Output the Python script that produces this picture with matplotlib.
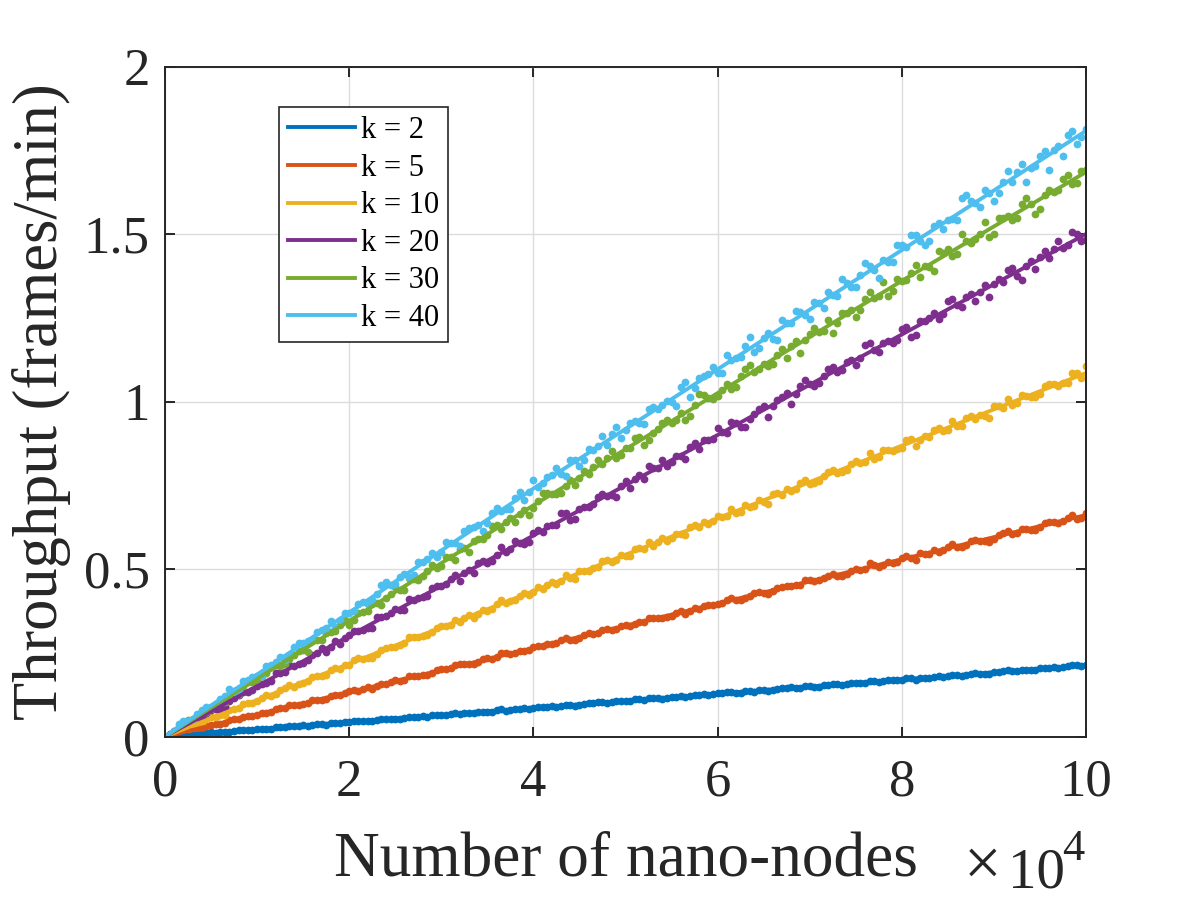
import numpy as np
import matplotlib
matplotlib.use("Agg")
import matplotlib.pyplot as plt

plt.rcParams['font.family'] = ['Liberation Serif', 'DejaVu Serif']

# ---------------- data ----------------
labels = ['k = 2', 'k = 5', 'k = 10', 'k = 20', 'k = 30', 'k = 40']
colors = ['#0072BD', '#D95319', '#EDB120', '#7E2F8E', '#77AC30', '#4DBEEE']

fit_x = [0, 20000, 40000, 60000, 80000, 100000]
fit_k2 = [0, 0.043, 0.085, 0.128, 0.170, 0.213]
fit_k5 = [0, 0.132, 0.264, 0.397, 0.529, 0.661]
fit_k10 = [0, 0.217, 0.434, 0.651, 0.868, 1.085]
fit_k20 = [0, 0.300, 0.600, 0.900, 1.200, 1.500]
fit_k30 = [0, 0.345, 0.690, 1.025, 1.360, 1.685]
fit_k40 = [0, 0.370, 0.740, 1.096, 1.452, 1.808]

# measured samples at 1000, 2000, ..., 100000 nano-nodes
sample_x_a = np.arange(1, 101) * 1000
# measured samples at 500, 1500, ..., 99500 nano-nodes
sample_x_b = np.arange(1, 101) * 1000 - 500

pts_k2_a = [0.002, 0.005, 0.006, 0.008, 0.012, 0.013, 0.014, 0.018, 0.020, 0.021,
            0.022, 0.027, 0.027, 0.031, 0.033, 0.033, 0.037, 0.039, 0.039, 0.044,
            0.046, 0.046, 0.050, 0.053, 0.052, 0.056, 0.057, 0.061, 0.063, 0.063,
            0.068, 0.067, 0.071, 0.073, 0.074, 0.078, 0.077, 0.082, 0.085, 0.084,
            0.088, 0.090, 0.091, 0.095, 0.094, 0.099, 0.102, 0.101, 0.105, 0.106,
            0.111, 0.110, 0.114, 0.113, 0.119, 0.120, 0.120, 0.125, 0.124, 0.129,
            0.132, 0.131, 0.135, 0.134, 0.140, 0.140, 0.144, 0.147, 0.146, 0.150,
            0.149, 0.155, 0.156, 0.157, 0.161, 0.160, 0.166, 0.165, 0.170, 0.169,
            0.174, 0.176, 0.175, 0.181, 0.180, 0.185, 0.184, 0.189, 0.188, 0.193,
            0.196, 0.195, 0.199, 0.198, 0.204, 0.205, 0.205, 0.210, 0.212, 0.214]
pts_k2_b = [0.001, 0.004, 0.004, 0.008, 0.011, 0.011, 0.012, 0.017, 0.020, 0.019,
            0.023, 0.023, 0.028, 0.031, 0.030, 0.032, 0.036, 0.035, 0.041, 0.042,
            0.045, 0.045, 0.045, 0.051, 0.053, 0.053, 0.059, 0.058, 0.059, 0.064,
            0.065, 0.069, 0.070, 0.069, 0.074, 0.074, 0.081, 0.079, 0.082, 0.082,
            0.088, 0.089, 0.089, 0.095, 0.092, 0.097, 0.099, 0.103, 0.102, 0.106,
            0.105, 0.111, 0.115, 0.114, 0.115, 0.119, 0.117, 0.125, 0.126, 0.126,
            0.129, 0.134, 0.131, 0.135, 0.139, 0.135, 0.143, 0.146, 0.145, 0.151,
            0.148, 0.153, 0.157, 0.154, 0.160, 0.160, 0.167, 0.163, 0.168, 0.168,
            0.174, 0.170, 0.176, 0.179, 0.179, 0.185, 0.182, 0.188, 0.188, 0.187,
            0.194, 0.198, 0.196, 0.199, 0.199, 0.205, 0.206, 0.207, 0.213, 0.210]

pts_k5_a = [0.008, 0.012, 0.022, 0.025, 0.035, 0.038, 0.048, 0.051, 0.062, 0.065,
            0.071, 0.082, 0.084, 0.095, 0.097, 0.109, 0.110, 0.121, 0.123, 0.135,
            0.137, 0.149, 0.150, 0.157, 0.168, 0.170, 0.182, 0.183, 0.189, 0.201,
            0.203, 0.215, 0.216, 0.222, 0.234, 0.236, 0.248, 0.249, 0.255, 0.268,
            0.269, 0.275, 0.288, 0.289, 0.295, 0.308, 0.308, 0.320, 0.321, 0.334,
            0.335, 0.341, 0.354, 0.355, 0.361, 0.374, 0.375, 0.380, 0.394, 0.395,
            0.407, 0.407, 0.413, 0.427, 0.428, 0.433, 0.447, 0.448, 0.453, 0.467,
            0.466, 0.480, 0.480, 0.486, 0.500, 0.499, 0.513, 0.512, 0.519, 0.533,
            0.532, 0.547, 0.545, 0.552, 0.566, 0.565, 0.571, 0.587, 0.585, 0.591,
            0.606, 0.604, 0.620, 0.617, 0.624, 0.640, 0.637, 0.653, 0.650, 0.667]
pts_k5_b = [0.003, 0.012, 0.014, 0.024, 0.032, 0.036, 0.039, 0.051, 0.059, 0.061,
            0.070, 0.073, 0.084, 0.094, 0.095, 0.100, 0.110, 0.112, 0.125, 0.129,
            0.139, 0.141, 0.143, 0.158, 0.163, 0.167, 0.180, 0.182, 0.185, 0.198,
            0.201, 0.213, 0.216, 0.217, 0.230, 0.232, 0.248, 0.247, 0.255, 0.257,
            0.271, 0.276, 0.278, 0.293, 0.287, 0.302, 0.307, 0.318, 0.319, 0.329,
            0.329, 0.343, 0.353, 0.354, 0.357, 0.368, 0.367, 0.385, 0.389, 0.392,
            0.400, 0.412, 0.408, 0.419, 0.430, 0.424, 0.442, 0.450, 0.451, 0.466,
            0.463, 0.474, 0.484, 0.480, 0.494, 0.498, 0.518, 0.507, 0.521, 0.522,
            0.539, 0.528, 0.546, 0.557, 0.556, 0.574, 0.565, 0.583, 0.585, 0.580,
            0.602, 0.613, 0.607, 0.618, 0.616, 0.638, 0.641, 0.643, 0.662, 0.653]

pts_k10_a = [0.012, 0.020, 0.035, 0.041, 0.057, 0.063, 0.079, 0.084, 0.101, 0.106,
             0.123, 0.127, 0.145, 0.149, 0.160, 0.178, 0.181, 0.199, 0.202, 0.214,
             0.233, 0.235, 0.246, 0.265, 0.268, 0.279, 0.298, 0.300, 0.311, 0.331,
             0.333, 0.343, 0.364, 0.365, 0.376, 0.396, 0.398, 0.408, 0.429, 0.430,
             0.440, 0.462, 0.463, 0.473, 0.494, 0.495, 0.505, 0.527, 0.527, 0.538,
             0.560, 0.560, 0.570, 0.593, 0.592, 0.603, 0.625, 0.624, 0.635, 0.658,
             0.657, 0.667, 0.691, 0.689, 0.699, 0.723, 0.722, 0.732, 0.756, 0.754,
             0.764, 0.789, 0.786, 0.797, 0.822, 0.819, 0.829, 0.854, 0.851, 0.861,
             0.887, 0.884, 0.894, 0.920, 0.916, 0.926, 0.952, 0.948, 0.958, 0.986,
             0.980, 0.990, 1.018, 1.013, 1.023, 1.051, 1.045, 1.055, 1.084, 1.106]
pts_k10_b = [0.004, 0.020, 0.023, 0.039, 0.051, 0.059, 0.065, 0.083, 0.097, 0.101,
             0.114, 0.121, 0.138, 0.153, 0.157, 0.165, 0.181, 0.184, 0.205, 0.212,
             0.228, 0.231, 0.235, 0.259, 0.267, 0.274, 0.296, 0.298, 0.303, 0.325,
             0.329, 0.349, 0.354, 0.355, 0.378, 0.380, 0.408, 0.404, 0.418, 0.421,
             0.446, 0.453, 0.456, 0.482, 0.470, 0.495, 0.503, 0.523, 0.522, 0.541,
             0.539, 0.564, 0.580, 0.580, 0.584, 0.605, 0.602, 0.632, 0.640, 0.643,
             0.656, 0.678, 0.669, 0.686, 0.707, 0.693, 0.726, 0.740, 0.739, 0.766,
             0.758, 0.778, 0.796, 0.791, 0.812, 0.817, 0.847, 0.833, 0.855, 0.857,
             0.884, 0.867, 0.896, 0.914, 0.912, 0.943, 0.928, 0.956, 0.959, 0.951,
             0.987, 1.006, 0.996, 1.015, 1.012, 1.046, 1.051, 1.054, 1.086, 1.071]

pts_k20_a = [0.016, 0.027, 0.050, 0.059, 0.078, 0.083, 0.105, 0.125, 0.132, 0.152,
             0.159, 0.189, 0.193, 0.211, 0.220, 0.244, 0.263, 0.267, 0.277, 0.303,
             0.315, 0.325, 0.358, 0.359, 0.381, 0.379, 0.407, 0.416, 0.444, 0.448,
             0.470, 0.464, 0.498, 0.519, 0.518, 0.542, 0.552, 0.584, 0.576, 0.607,
             0.609, 0.631, 0.666, 0.647, 0.680, 0.686, 0.715, 0.719, 0.716, 0.763,
             0.768, 0.770, 0.802, 0.826, 0.819, 0.838, 0.865, 0.857, 0.885, 0.921,
             0.906, 0.935, 0.925, 0.963, 0.988, 0.986, 1.012, 0.993, 1.047, 1.051,
             1.054, 1.098, 1.089, 1.119, 1.108, 1.168, 1.154, 1.174, 1.176, 1.217,
             1.192, 1.241, 1.248, 1.246, 1.300, 1.287, 1.311, 1.299, 1.348, 1.350,
             1.357, 1.400, 1.364, 1.420, 1.430, 1.428, 1.480, 1.468, 1.501, 1.482]
pts_k20_b = [0.006, 0.027, 0.032, 0.053, 0.071, 0.081, 0.089, 0.115, 0.134, 0.139,
             0.158, 0.167, 0.191, 0.213, 0.216, 0.228, 0.250, 0.253, 0.284, 0.293,
             0.315, 0.319, 0.324, 0.358, 0.370, 0.378, 0.410, 0.412, 0.419, 0.449,
             0.455, 0.483, 0.489, 0.489, 0.523, 0.524, 0.565, 0.559, 0.578, 0.581,
             0.617, 0.627, 0.630, 0.667, 0.649, 0.685, 0.695, 0.723, 0.721, 0.748,
             0.743, 0.781, 0.806, 0.801, 0.807, 0.836, 0.828, 0.877, 0.885, 0.887,
             0.908, 0.940, 0.923, 0.948, 0.978, 0.954, 1.004, 1.025, 1.021, 1.063,
             1.046, 1.076, 1.103, 1.094, 1.124, 1.129, 1.174, 1.149, 1.182, 1.183,
             1.223, 1.198, 1.239, 1.264, 1.261, 1.305, 1.281, 1.322, 1.326, 1.311,
             1.366, 1.393, 1.376, 1.403, 1.395, 1.448, 1.455, 1.457, 1.506, 1.478]

pts_k30_a = [0.013, 0.038, 0.051, 0.076, 0.083, 0.105, 0.124, 0.128, 0.162, 0.170,
             0.190, 0.212, 0.216, 0.244, 0.258, 0.287, 0.287, 0.312, 0.333, 0.334,
             0.370, 0.375, 0.399, 0.413, 0.447, 0.438, 0.471, 0.479, 0.512, 0.510,
             0.536, 0.560, 0.550, 0.591, 0.601, 0.631, 0.640, 0.639, 0.677, 0.682,
             0.726, 0.724, 0.728, 0.766, 0.771, 0.785, 0.824, 0.831, 0.830, 0.861,
             0.890, 0.869, 0.906, 0.936, 0.936, 0.965, 0.957, 1.021, 1.010, 1.016,
             1.052, 1.044, 1.097, 1.088, 1.112, 1.113, 1.158, 1.165, 1.146, 1.202,
             1.206, 1.244, 1.235, 1.264, 1.253, 1.307, 1.308, 1.358, 1.331, 1.360,
             1.385, 1.371, 1.402, 1.449, 1.454, 1.441, 1.478, 1.484, 1.537, 1.501,
             1.547, 1.543, 1.589, 1.590, 1.574, 1.632, 1.632, 1.677, 1.652, 1.691]
pts_k30_b = [0.003, 0.029, 0.050, 0.060, 0.073, 0.096, 0.103, 0.136, 0.150, 0.162,
             0.181, 0.206, 0.209, 0.231, 0.255, 0.253, 0.288, 0.308, 0.316, 0.347,
             0.348, 0.372, 0.397, 0.394, 0.426, 0.438, 0.473, 0.466, 0.494, 0.503,
             0.535, 0.528, 0.562, 0.585, 0.591, 0.627, 0.619, 0.653, 0.663, 0.661,
             0.704, 0.728, 0.724, 0.749, 0.750, 0.793, 0.804, 0.812, 0.852, 0.839,
             0.861, 0.895, 0.884, 0.919, 0.944, 0.946, 0.944, 0.990, 1.018, 1.007,
             1.035, 1.036, 1.076, 1.109, 1.097, 1.105, 1.140, 1.129, 1.182, 1.184,
             1.219, 1.210, 1.203, 1.263, 1.273, 1.274, 1.327, 1.316, 1.316, 1.366,
             1.363, 1.406, 1.404, 1.389, 1.444, 1.433, 1.501, 1.474, 1.500, 1.491,
             1.548, 1.555, 1.549, 1.607, 1.559, 1.616, 1.624, 1.665, 1.648, 1.687]

pts_k40_a = [0.017, 0.045, 0.050, 0.078, 0.089, 0.112, 0.143, 0.139, 0.170, 0.182,
             0.210, 0.221, 0.228, 0.268, 0.280, 0.289, 0.319, 0.345, 0.347, 0.368,
             0.396, 0.397, 0.426, 0.461, 0.456, 0.485, 0.483, 0.520, 0.547, 0.552,
             0.579, 0.569, 0.621, 0.630, 0.638, 0.682, 0.680, 0.711, 0.706, 0.765,
             0.756, 0.780, 0.785, 0.826, 0.808, 0.857, 0.867, 0.869, 0.924, 0.915,
             0.942, 0.934, 0.984, 0.989, 0.999, 1.044, 1.013, 1.070, 1.083, 1.084,
             1.138, 1.130, 1.165, 1.149, 1.190, 1.188, 1.243, 1.235, 1.267, 1.246,
             1.294, 1.327, 1.316, 1.353, 1.341, 1.413, 1.392, 1.421, 1.415, 1.467,
             1.497, 1.479, 1.480, 1.534, 1.541, 1.543, 1.617, 1.592, 1.630, 1.598,
             1.655, 1.654, 1.709, 1.696, 1.733, 1.691, 1.764, 1.797, 1.770, 1.813]
pts_k40_b = [0.005, 0.036, 0.045, 0.067, 0.089, 0.094, 0.120, 0.134, 0.165, 0.179,
             0.181, 0.212, 0.236, 0.242, 0.280, 0.284, 0.311, 0.325, 0.328, 0.370,
             0.374, 0.401, 0.408, 0.452, 0.451, 0.476, 0.476, 0.520, 0.529, 0.537,
             0.581, 0.577, 0.612, 0.626, 0.613, 0.667, 0.672, 0.680, 0.729, 0.731,
             0.744, 0.775, 0.801, 0.779, 0.824, 0.825, 0.854, 0.897, 0.902, 0.890,
             0.935, 0.935, 0.978, 0.977, 1.001, 0.987, 1.057, 1.040, 1.076, 1.102,
             1.084, 1.124, 1.133, 1.192, 1.160, 1.205, 1.184, 1.233, 1.270, 1.259,
             1.298, 1.279, 1.317, 1.366, 1.342, 1.378, 1.404, 1.368, 1.415, 1.466,
             1.461, 1.498, 1.466, 1.523, 1.515, 1.545, 1.606, 1.599, 1.581, 1.623,
             1.623, 1.687, 1.686, 1.654, 1.703, 1.747, 1.751, 1.734, 1.806, 1.789]

fits = [fit_k2, fit_k5, fit_k10, fit_k20, fit_k30, fit_k40]
pts_a = [pts_k2_a, pts_k5_a, pts_k10_a, pts_k20_a, pts_k30_a, pts_k40_a]
pts_b = [pts_k2_b, pts_k5_b, pts_k10_b, pts_k20_b, pts_k30_b, pts_k40_b]

x_ticks = [0, 20000, 40000, 60000, 80000, 100000]
x_tick_labels = ['0', '2', '4', '6', '8', '10']
y_ticks = [0, 0.5, 1, 1.5, 2]
y_tick_labels = ['0', '0.5', '1', '1.5', '2']

# ---------------- figure ----------------
W, H = 1200, 900
fig = plt.figure(figsize=(12, 9), dpi=100)
ax = fig.add_axes([165 / W, 1 - 736.5 / H, (1086 - 165) / W, 670 / H])

axcol = '#262626'
lines = []
for f, pa, pb, c, lab in zip(fits, pts_a, pts_b, colors, labels):
    ax.plot(np.concatenate([[0], sample_x_b, sample_x_a]),
            np.concatenate([[0.0], pb, pa]),
            linestyle='none', marker='o', markersize=5.6,
            markeredgewidth=0, color=c, zorder=2)
    ln, = ax.plot(fit_x, f, color=c, linewidth=2.8, label=lab, zorder=3)
    lines.append(ln)

ax.set_xlim(0, 100000)
ax.set_ylim(0, 2)
ax.set_xticks(x_ticks)
ax.set_xticklabels(x_tick_labels)
ax.set_yticks(y_ticks)
ax.set_yticklabels(y_tick_labels)

ax.grid(True, color='#dcdcdc', linewidth=1.0, zorder=0)
ax.set_axisbelow(True)

for s in ax.spines.values():
    s.set_color(axcol)
    s.set_linewidth(1.4)
    s.set_zorder(5)

ax.tick_params(axis='both', which='both', direction='in', length=7, width=1.4,
               color=axcol, labelcolor=axcol, top=True, right=True, labelsize=38)
ax.tick_params(axis='x', pad=16)
ax.tick_params(axis='y', pad=11)

ax.set_xlabel('Number of nano-nodes', fontsize=45.5, color=axcol, va='baseline')
ax.xaxis.set_label_coords(0.5, (736.5 - 875) / 670)
ax.set_ylabel('Throughput (frames/min)', fontsize=45, color=axcol, va='center')
ax.yaxis.set_label_coords((42 - 165) / 921, 0.5)

fig.text(964 / W, 1 - 885 / H, '\u00d7', fontsize=48, color=axcol,
         ha='left', va='baseline')
fig.text(1008 / W, 1 - 887 / H, '10', fontsize=41, color=axcol,
         ha='left', va='baseline')
fig.text(1062 / W, 1 - 860 / H, '4', fontsize=32, color=axcol,
         ha='left', va='baseline')

leg = ax.legend(handles=lines, loc='upper left',
                bbox_to_anchor=((279 - 165) / 921, (736.5 - 107) / 670),
                borderaxespad=0, fontsize=22, frameon=True, fancybox=False,
                edgecolor=axcol, framealpha=1, handlelength=2.2,
                handletextpad=0.18, labelspacing=0.28, borderpad=0.3)
leg.get_frame().set_linewidth(1.2)
for t in leg.get_texts():
    t.set_color('black')

fig.savefig('out.png', dpi=100)
